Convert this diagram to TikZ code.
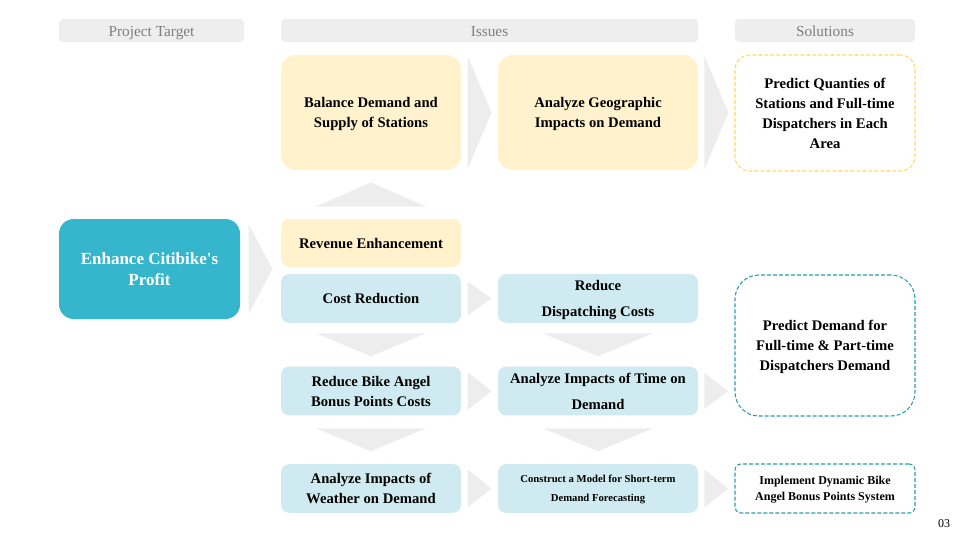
\documentclass[tikz,border=0pt]{standalone}
\usepackage{fontspec}
\setmainfont{Liberation Serif}
\usetikzlibrary{calc}
\definecolor{headgray}{HTML}{EEEEEE}
\definecolor{textgray}{HTML}{7F7F7F}
\definecolor{chevgray}{HTML}{EDEDED}
\definecolor{softyellow}{HTML}{FFF2CC}
\definecolor{softblue}{HTML}{CFEBF1}
\definecolor{cititeal}{HTML}{35B6CC}
\definecolor{dashyellow}{HTML}{FFD966}
\definecolor{dashteal}{HTML}{2A9DAC}
\begin{document}
\begin{tikzpicture}[
  x=0.75pt, y=-0.75pt,
  head/.style={rectangle, rounded corners=3pt, fill=headgray, text=textgray, minimum height=17.25pt, inner ysep=1pt, text height=9.5pt, text depth=0.5pt, font=\fontsize{11.5}{13}\selectfont},
  card/.style={rectangle, rounded corners=6pt, minimum width=135pt, minimum height=36.5pt, text depth=0pt, align=center, font=\bfseries\fontsize{11}{15}\selectfont},
  ycard/.style={card, fill=softyellow},
  bcard/.style={card, fill=softblue},
  goal/.style={rectangle, rounded corners=11pt, fill=cititeal, text=white, minimum width=135.75pt, minimum height=75pt, align=center, font=\bfseries\fontsize{12.75}{16}\selectfont},
  sol/.style={rectangle, draw=dashteal, line width=0.8pt, dash pattern=on 3pt off 1.5pt, minimum width=135pt, text depth=0pt, align=center, font=\bfseries\fontsize{11}{15}\selectfont},
  chev/.style={fill=chevgray}
]
\useasboundingbox (0,0) rectangle (960,540);

% column heads
\node[head, minimum width=138.75pt] (target) at (151.5,30.5) {Project Target};
\node[head, minimum width=312.75pt] (issues) at (489.5,30.5) {Issues};
\node[head, minimum width=135pt] (solutions) at (825,30.5) {Solutions};

% top row
\node[ycard, minimum height=86.25pt, rounded corners=11pt] (balance) at (371,112.5) {Balance Demand and\\Supply of Stations};
\node[ycard, minimum width=150pt, minimum height=86.25pt, rounded corners=11pt] (geo) at (598,112.5) {Analyze Geographic\\Impacts on Demand};
\node[sol, draw=dashyellow, minimum height=87pt, rounded corners=11pt] (solQty) at (825,113) {Predict Quanties of\\Stations and Full-time\\Dispatchers in Each\\Area};

% target
\node[goal] (goal) at (149.5,269) {Enhance Citibike\textquotesingle s\\Profit};

% issues
\node[ycard, minimum height=36pt] (revenue) at (371,243) {Revenue Enhancement};
\node[bcard] (cost) at (371,298.5) {Cost Reduction};
\node[bcard, minimum width=150pt, font=\bfseries\fontsize{11}{19.5}\selectfont] (dispatch) at (598,298.5) {Reduce\\Dispatching Costs};
\node[bcard] (angel) at (371,391) {Reduce Bike Angel\\Bonus Points Costs};
\node[bcard, minimum width=150pt, font=\bfseries\fontsize{11}{19.5}\selectfont] (time) at (598,391) {Analyze Impacts of Time on\\Demand};
\node[bcard] (weather) at (371,488.5) {Analyze Impacts of\\Weather on Demand};
\node[bcard, minimum width=150pt, font=\bfseries\fontsize{8}{14.25}\selectfont] (model) at (598,488.5) {Construct a Model for Short-term\\Demand Forecasting};

% solutions
\node[sol, minimum height=105.75pt, rounded corners=18pt] (solDemand) at (825,345.5) {Predict Demand for\\Full-time \& Part-time\\Dispatchers Demand};
\node[sol, minimum height=36.75pt, rounded corners=4.5pt, font=\bfseries\fontsize{9}{12}\selectfont] (solAngel) at (825,488.5) {Implement Dynamic Bike\\Angel Bonus Points System};

\node[font=\fontsize{9}{11}\selectfont] (page) at (944,524) {03};

% chevrons
\foreach \a/\b/\h in {balance/geo/57, geo/solQty/57, goal/revenue/45, cost/dispatch/17, angel/time/19, time/solDemand/18, weather/model/19, model/solAngel/19}{
  \coordinate (m) at ($(\a.east)!0.5!(\a.east -| \b.west)$);
  \fill[chev] ($(m)+(-12,-\h)$) -- ($(m)+(12,0)$) -- ($(m)+(-12,\h)$) -- cycle;
}
\foreach \a/\b in {cost/angel, angel/weather, dispatch/time, time/model}{
  \coordinate (m) at ($(\a.south)!0.5!(\b.north)$);
  \fill[chev] ($(m)+(-55,-11.5)$) -- ($(m)+(55,-11.5)$) -- ($(m)+(0,11.5)$) -- cycle;
}
\coordinate (m) at ($(balance.south)!0.5!(revenue.north)$);
\fill[chev] ($(m)+(-55,12)$) -- ($(m)+(0,-12)$) -- ($(m)+(55,12)$) -- cycle;
\end{tikzpicture}
\end{document}
